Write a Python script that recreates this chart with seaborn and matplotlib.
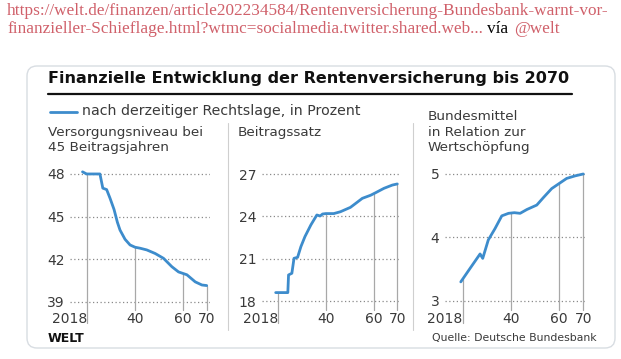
import numpy as np
import pandas as pd
import seaborn as sns
import matplotlib.pyplot as plt
from matplotlib.patches import FancyBboxPatch

# Daten
years_niveau = [2018.0, 2019.7, 2020.0, 2025.3, 2026.5, 2028.1, 2029.5, 2031.2, 2032.6, 2033.7,
                2035.8, 2037.9, 2040.0, 2042.1, 2044.9, 2048.4, 2051.9, 2055.4, 2058.2, 2061.7,
                2065.2, 2068.0, 2070.0]
niveau = [48.15, 48.0, 48.0, 48.0, 47.0, 46.9, 46.3, 45.5, 44.6, 44.05,
          43.4, 43.0, 42.84, 42.77, 42.65, 42.4, 42.06, 41.47, 41.1, 40.9,
          40.4, 40.18, 40.14]

years_satz = [2018.9, 2024.0, 2024.3, 2025.7, 2026.6, 2028.1, 2029.5, 2031.2, 2033.7, 2036.2,
              2037.6, 2038.6, 2040.0, 2043.3, 2046.1, 2050.3, 2052.5, 2055.3, 2058.8, 2060.9,
              2064.4, 2067.9, 2070.0]
satz = [18.6, 18.6, 19.85, 19.97, 21.03, 21.1, 21.86, 22.57, 23.4, 24.1,
        24.03, 24.17, 24.2, 24.2, 24.33, 24.64, 24.92, 25.28, 25.5, 25.68,
        25.99, 26.22, 26.3]

years_bund = [2019.2, 2023.0, 2027.2, 2028.3, 2030.6, 2033.4, 2036.2, 2039.0, 2041.4, 2043.8,
              2046.6, 2050.7, 2053.5, 2056.9, 2060.0, 2063.1, 2066.6, 2070.0]
bund = [3.30, 3.51, 3.74, 3.67, 3.96, 4.14, 4.34, 4.38, 4.39, 4.38,
        4.44, 4.51, 4.63, 4.77, 4.85, 4.93, 4.97, 5.0]

guide_years = [2020, 2040, 2060, 2070]
xtick_labels = ['2018', '40', '60', '70']

panel_titles = ['Versorgungsniveau bei\n45 Beitragsjahren', 'Beitragssatz',
                'Bundesmittel\nin Relation zur\nWertschöpfung']
yticks_list = [[39, 42, 45, 48], [18, 21, 24, 27], [3, 4, 5]]

title = 'Finanzielle Entwicklung der Rentenversicherung bis 2070'
legend_text = 'nach derzeitiger Rechtslage, in Prozent'
source = 'Quelle: Deutsche Bundesbank'
link1 = 'https://welt.de/finanzen/article202234584/Rentenversicherung-Bundesbank-warnt-vor-'
link2 = 'finanzieller-Schieflage.html?wtmc=socialmedia.twitter.shared.web...'

W, H = 621, 359
BLUE = '#3d8ccc'
TXT = '#3a3a3a'
LINK = '#d0606a'

sns.set_style('white')
plt.rcParams['font.family'] = ['DejaVu Sans']

fig = plt.figure(figsize=(W / 100, H / 100), dpi=100)
fig.patch.set_facecolor('white')

# Hintergrund-Achse in Pixelkoordinaten
bg = fig.add_axes([0, 0, 1, 1])
bg.set_xlim(0, W)
bg.set_ylim(H, 0)
bg.axis('off')

card = FancyBboxPatch((27, 66), 588, 282, boxstyle='round,pad=0,rounding_size=10',
                      facecolor='white', edgecolor='#d8dde2', linewidth=1)
bg.add_patch(card)

# Link-Zeilen
LFS = 12.4
renderer = fig.canvas.get_renderer()
bg.text(7, 11, link1, fontsize=LFS, family='Liberation Serif', color=LINK, va='center')
t = bg.text(7, 29, link2, fontsize=LFS, family='Liberation Serif', color=LINK, va='center')
bb = t.get_window_extent(renderer)
t2 = fig.text((bb.x1 + 4) / W, 1 - 29 / H, 'vía', fontsize=LFS, family='Liberation Serif',
              color='black', va='center')
bb2 = t2.get_window_extent(renderer)
fig.text((bb2.x1 + 6) / W, 1 - 29 / H, '@welt', fontsize=LFS, family='Liberation Serif',
         color=LINK, va='center')

# Titel
bg.text(48, 78, title, fontsize=11.5, fontweight='bold', color='#111111', va='center')
bg.plot([48, 572], [94, 94], color='#111111', linewidth=1.6)

# Legende
bg.plot([50, 77], [112, 112], color=BLUE, linewidth=2)
bg.text(82, 111.5, legend_text, fontsize=10.2, color=TXT, va='center')

# Trennlinien
for xs in [228, 413]:
    bg.plot([xs, xs], [123, 330], color='#cfcfcf', linewidth=0.8)

# Panel-Titel
PFS = 9.7
bg.text(48, 126, panel_titles[0], fontsize=PFS, color=TXT, va='top', linespacing=1.25)
bg.text(238, 126, panel_titles[1], fontsize=PFS, color=TXT, va='top', linespacing=1.25)
bg.text(428, 110, panel_titles[2], fontsize=PFS, color=TXT, va='top', linespacing=1.25)

bg.text(48, 338, 'WELT', fontsize=9, fontweight='bold', color='#111111', va='center')
bg.text(432, 338, source, fontsize=7.8, color=TXT, va='center')


def px_axes(left, top, right, bottom):
    return fig.add_axes([left / W, 1 - bottom / H, (right - left) / W, (bottom - top) / H])


boxes = [(70, 168, 210, 306), (262, 168, 400, 306), (445, 168, 585, 306)]
xlims = [(2012.76, 2071.38), (2013.15, 2071.13), (2012.66, 2070.7)]
ylims = [(38.70, 48.42), (17.65, 27.43), (2.92, 5.094)]
series = [(years_niveau, niveau), (years_satz, satz), (years_bund, bund)]

for i in range(3):
    ax = px_axes(*boxes[i])
    ax.set_facecolor('none')
    xs, ys = series[i]
    df = pd.DataFrame({'Jahr': xs, 'Wert': ys})
    ax.set_xlim(*xlims[i])
    ax.set_ylim(*ylims[i])
    lo, hi = ylims[i]
    for gy in yticks_list[i]:
        ax.axhline(gy, color='#8a8a8a', linewidth=0.9, linestyle=(0, (1, 2)), zorder=1)
    for k, gx in enumerate(guide_years):
        v = np.interp(gx, xs, ys)
        ymax = (v - lo) / (hi - lo)
        ymin = -0.12 if k == 0 else -0.03
        ax.axvline(gx, ymin=ymin, ymax=ymax, color='#a8a8a8', linewidth=0.9,
                   clip_on=False, zorder=2)
    sns.lineplot(data=df, x='Jahr', y='Wert', ax=ax, color=BLUE, linewidth=2,
                 estimator=None, sort=False, zorder=3)
    ax.set_xlabel('')
    ax.set_ylabel('')
    ax.set_yticks(yticks_list[i])
    ax.set_yticklabels([str(v) for v in yticks_list[i]])
    ax.set_xticks(guide_years)
    ax.set_xticklabels(xtick_labels)
    ax.tick_params(axis='both', length=0, labelsize=10, labelcolor=TXT)
    ax.tick_params(axis='y', pad=4)
    ax.tick_params(axis='x', pad=4)
    ax.get_xticklabels()[0].set_horizontalalignment('right')
    for s in ax.spines.values():
        s.set_visible(False)

fig.savefig('out.png', dpi=100)
